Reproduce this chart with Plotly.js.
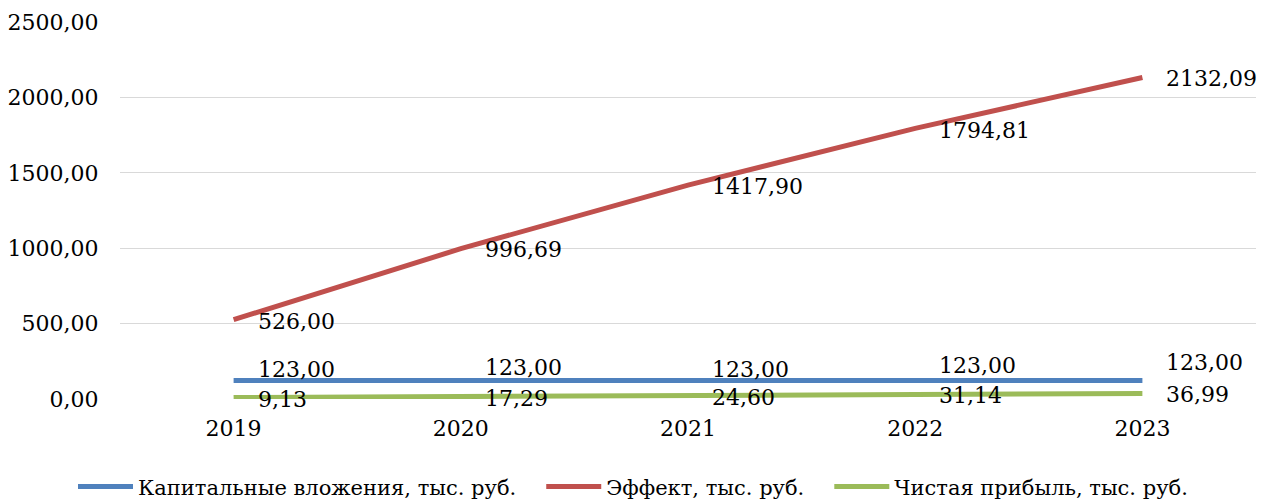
<!DOCTYPE html>
<html>
<head>
<meta charset="utf-8">
<script src="https://cdn.plot.ly/plotly-3.0.1.min.js"></script>
<style>html,body{margin:0;padding:0;background:#fff;}#chart{width:1266px;height:501px;}</style>
</head>
<body>
<div id="chart"></div>
<script>
const years = ['2019', '2020', '2021', '2022', '2023'];
const capital = [123.00, 123.00, 123.00, 123.00, 123.00];
const effect = [526.00, 996.69, 1417.90, 1794.81, 2132.09];
const profit = [9.13, 17.29, 24.60, 31.14, 36.99];
const seriesNames = ['Капитальные вложения, тыс. руб.', 'Эффект, тыс. руб.', 'Чистая прибыль, тыс. руб.'];
const seriesColors = ['#4F81BD', '#C0504D', '#9BBB59'];

// label vertical shifts (px) per series/point
const labelShift = [
  [11, 13, 11, 15, 18],
  [-2, -1, -1, -2, -1],
  [-2, -2, -2, -1, -1]
];

const FONT = 'DejaVu Serif';
const series = [capital, effect, profit];

const traces = series.map((vals, i) => ({
  type: 'scatter',
  mode: 'lines',
  x: years,
  y: vals,
  name: seriesNames[i] + (i < 2 ? '\u00a0'.repeat(3) : ''),
  line: {color: seriesColors[i], width: 5, shape: 'linear'},
  hoverinfo: 'skip'
}));

const fmt = v => v.toFixed(2).replace('.', ',');
const annotations = [];
series.forEach((vals, i) => {
  vals.forEach((v, j) => {
    annotations.push({
      xref: 'x', yref: 'y', x: j, y: v,
      text: fmt(v), showarrow: false,
      xanchor: 'left', yanchor: 'middle',
      xshift: 22, yshift: labelShift[i][j],
      font: {family: FONT, size: 22, color: '#000'}
    });
  });
});

const layout = {
  width: 1266, height: 501,
  margin: {l: 120, r: 10, t: 22, b: 101.5},
  paper_bgcolor: '#fff', plot_bgcolor: '#fff',
  separators: ', ',
  font: {family: FONT},
  showlegend: true,
  legend: {
    orientation: 'h', xref: 'container', x: 0.5, xanchor: 'center',
    yref: 'container', y: 0.028, yanchor: 'middle',
    font: {family: FONT, size: 21, color: '#000'},
    itemwidth: 55, tracegroupgap: 0
  },
  xaxis: {
    type: 'category', range: [-0.5, 4.5],
    showgrid: false, zeroline: false, showline: false,
    ticks: 'outside', ticklen: 10, tickcolor: 'rgba(0,0,0,0)',
    tickfont: {family: FONT, size: 22, color: '#000'}
  },
  yaxis: {
    range: [0, 2500], dtick: 500, tick0: 0,
    tickformat: '.2f',
    showgrid: true, gridcolor: '#D9D9D9', gridwidth: 1.3,
    zeroline: false, showline: false,
    ticks: 'outside', ticklen: 16, tickcolor: 'rgba(0,0,0,0)',
    tickfont: {family: FONT, size: 22, color: '#000'}
  },
  annotations: annotations
};

Plotly.newPlot('chart', traces, layout, {displayModeBar: false, staticPlot: true});
</script>
</body>
</html>
